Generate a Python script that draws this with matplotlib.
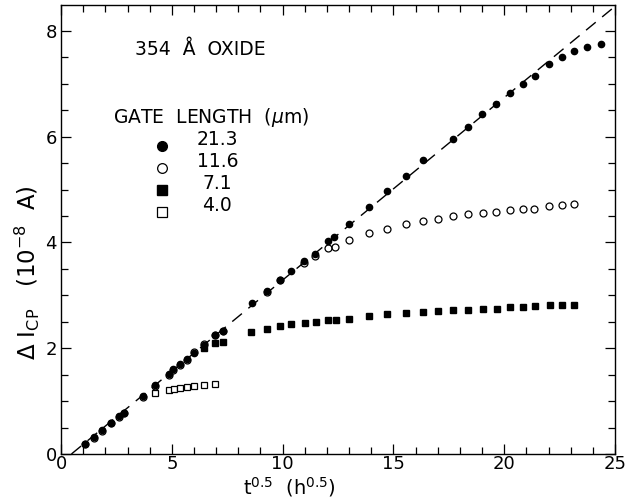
import matplotlib
matplotlib.use("Agg")
import matplotlib.pyplot as plt
import numpy as np
from matplotlib.ticker import MultipleLocator

plt.rcParams['font.family'] = ['DejaVu Sans']

# gate length 21.3 um (filled circles)
x_213 = [1.08, 1.5, 1.87, 2.26, 2.6, 2.84, 3.71, 4.24, 4.87, 5.07, 5.38, 5.67, 6.02, 6.45,
         6.95, 7.3, 8.6, 9.28, 9.88, 10.38, 10.98, 11.46, 12.06, 12.33, 13.01, 13.9, 14.73,
         15.57, 16.35, 17.71, 18.38, 19.01, 19.63, 20.26, 20.83, 21.39, 22.04, 22.59, 23.15,
         23.72, 24.36]
y_213 = [0.19, 0.32, 0.45, 0.59, 0.71, 0.78, 1.10, 1.30, 1.52, 1.61, 1.70, 1.79, 1.90, 2.06,
         2.24, 2.32, 2.85, 3.08, 3.29, 3.45, 3.64, 3.78, 4.02, 4.10, 4.34, 4.67, 4.98,
         5.26, 5.56, 5.95, 6.19, 6.43, 6.61, 6.83, 6.99, 7.15, 7.38, 7.51, 7.62,
         7.69, 7.76]

# gate length 11.6 um (open circles)
x_116 = [1.08, 1.5, 1.87, 2.26, 2.6, 2.84, 3.71, 4.24, 4.87, 5.07, 5.38, 5.67, 6.02, 6.45,
         6.95, 7.3, 9.28, 9.88, 10.98, 11.46, 12.03, 12.36, 13.0, 13.9, 14.7, 15.57, 16.35,
         17.03, 17.71, 18.38, 19.03, 19.63, 20.26, 20.86, 21.36, 22.04, 22.59, 23.15]
y_116 = [0.18, 0.31, 0.44, 0.58, 0.69, 0.77, 1.08, 1.28, 1.50, 1.58, 1.68, 1.77, 1.92, 2.08,
         2.24, 2.33, 3.06, 3.28, 3.62, 3.74, 3.90, 3.92, 4.05, 4.17, 4.25, 4.35, 4.41,
         4.44, 4.50, 4.53, 4.56, 4.58, 4.61, 4.63, 4.64, 4.69, 4.71, 4.73]

# gate length 7.1 um (filled squares)
x_71 = [6.45, 6.95, 7.3, 8.57, 9.28, 9.88, 10.38, 11.01, 11.5, 12.03, 12.4, 13.0, 13.9, 14.73,
        15.57, 16.35, 17.03, 17.71, 18.38, 19.03, 19.66, 20.26, 20.86, 21.39, 22.07, 22.59,
        23.15]
y_71 = [2.0, 2.10, 2.12, 2.30, 2.36, 2.42, 2.45, 2.48, 2.50, 2.53, 2.53, 2.56, 2.61, 2.64,
        2.66, 2.68, 2.70, 2.72, 2.73, 2.74, 2.75, 2.77, 2.78, 2.79, 2.81, 2.82, 2.82]

# gate length 4.0 um (open squares)
x_40 = [4.24, 4.87, 5.1, 5.38, 5.67, 6.02, 6.47, 6.95]
y_40 = [1.15, 1.21, 1.22, 1.25, 1.27, 1.28, 1.30, 1.33]

legend_labels = ["21.3", "11.6", "7.1", "4.0"]

fig = plt.figure(figsize=(6.39, 4.99), dpi=100)
ax = fig.add_axes([0.0955, 0.0902, 0.867, 0.9])

# linear fit line
xl = np.array([0.47, 25.0])
ax.plot(xl, 0.345 * (xl - 0.47), color="k", lw=1.0, dashes=(9, 6))

ax.plot(x_40, y_40, "s", ms=4.5, mfc="white", mec="k", mew=0.9, ls="none")
ax.plot(x_71, y_71, "s", ms=4.5, color="k", ls="none")
ax.plot(x_213, y_213, "o", ms=4.5, color="k", ls="none")
ax.plot(x_116, y_116, "o", ms=5, mfc="none", mec="k", mew=0.9, ls="none")

ax.set_xlim(0, 25)
ax.set_ylim(0, 8.49)
ax.xaxis.set_major_locator(MultipleLocator(5))
ax.xaxis.set_minor_locator(MultipleLocator(1))
ax.yaxis.set_major_locator(MultipleLocator(2))
ax.yaxis.set_minor_locator(MultipleLocator(0.5))
ax.tick_params(which="both", direction="in", top=True, right=True, labelsize=13, width=0.9)
ax.tick_params(which="major", length=7, pad=3)
ax.tick_params(axis="x", which="major", pad=1)
ax.tick_params(which="minor", length=5)
for s in ax.spines.values():
    s.set_linewidth(1.0)

ax.set_xlabel(r"t$^{0.5}$  (h$^{0.5}$)", fontsize=14)
ax.xaxis.set_label_coords(0.413, -0.046)
ax.set_ylabel(r"$\Delta$ I$_{\rm CP}$   (10$^{-8}$  A)", fontsize=16.5)
ax.yaxis.set_label_coords(-0.035, 0.403)

# annotations
ax.text(0.1336, 0.90, "354  Å  OXIDE", transform=ax.transAxes, fontsize=13.5, va="center")
ax.text(0.094, 0.75, "GATE  LENGTH  ($\\mu$m)", transform=ax.transAxes, fontsize=13.5, va="center")
marks = [dict(marker="o", color="k"), dict(marker="o", mfc="white", mec="k", mew=0.9),
         dict(marker="s", color="k"), dict(marker="s", mfc="white", mec="k", mew=0.9)]
for i, lab in enumerate(legend_labels):
    yy = 0.70 - i * 0.049
    ax.plot([0.183], [yy - 0.015], transform=ax.transAxes, ms=7, ls="none", **marks[i])
    ax.text(0.282, yy, lab, transform=ax.transAxes, fontsize=13.5, va="center", ha="center")

fig.savefig("out.png", dpi=100)
